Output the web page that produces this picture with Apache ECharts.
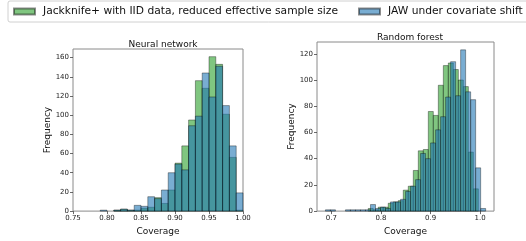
<!DOCTYPE html>
<html>
<head>
<meta charset="utf-8">
<script src="https://cdn.jsdelivr.net/npm/echarts@6/dist/echarts.min.js"></script>
<style>
html, body { margin: 0; padding: 0; background: #fff; }
#chart { width: 526px; height: 241px; }
</style>
</head>
<body>
<div id="chart"></div>
<script>
// Neural network histogram (bin width 0.01)
const nnBinStarts = [0.79, 0.80, 0.81, 0.82, 0.83, 0.84, 0.85, 0.86, 0.87, 0.88, 0.89,
    0.90, 0.91, 0.92, 0.93, 0.94, 0.95, 0.96, 0.97, 0.98, 0.99]
const nnBinWidth = 0.01
const nnJackknife = [0, 0, 1, 2, 1, 1, 3, 4, 14, 8, 22, 50, 68, 95, 136, 128, 161, 153, 101, 56, 1]
const nnJaw = [1, 0, 1, 2, 1, 6, 5, 15, 13, 22, 40, 49, 43, 89, 99, 144, 119, 151, 110, 68, 19]

// Random forest histogram (each series has its own bin edges)
const rfBinWidth = 0.0101
const rfJackknifeStarts = [0.7743, 0.7844, 0.7945, 0.8046, 0.8147, 0.8248, 0.8349, 0.8450,
    0.8551, 0.8652, 0.8753, 0.8854, 0.8955, 0.9056, 0.9157, 0.9258, 0.9359, 0.9460,
    0.9561, 0.9662, 0.9763, 0.9864]
const rfJackknife = [2, 1, 3, 3, 6, 7, 8, 16, 19, 31, 46, 47, 76, 73, 96, 111, 113, 108, 100, 95, 45, 17]
const rfJawStarts = [0.6880, 0.6981, 0.7082, 0.7183, 0.7284, 0.7385, 0.7486, 0.7587,
    0.7688, 0.7789, 0.7890, 0.7991, 0.8092, 0.8193, 0.8294, 0.8395, 0.8496, 0.8597,
    0.8698, 0.8799, 0.8900, 0.9001, 0.9102, 0.9203, 0.9304, 0.9405, 0.9506, 0.9607,
    0.9708, 0.9809, 0.9910, 1.0011]
const rfJaw = [1, 1, 0, 0, 1, 1, 1, 1, 1, 5, 2, 3, 2, 7, 7, 9, 15, 19, 24, 44, 40, 52, 62, 72,
    87, 114, 88, 123, 91, 85, 33, 2]

const nnTicks = [0.75, 0.80, 0.85, 0.90, 0.95, 1.00]
const rfTicks = [0.7, 0.8, 0.9, 1.0]
const nnYTicks = [0, 20, 40, 60, 80, 100, 120, 140, 160]
const rfYTicks = [0, 20, 40, 60, 80, 100, 120]

const seriesNames = ['Jackknife+ with IID data, reduced effective sample size', 'JAW under covariate shift']
const greenFill = 'rgba(44,160,44,0.6)'
const blueFill = 'rgba(31,119,180,0.6)'
const edgeColor = 'rgba(0,0,0,0.45)'
const font = 'DejaVu Sans'

const toBins = (starts, width, counts) => starts.map((s, i) => [s, s + width, counts[i]])

const renderBar = (params, api) => {
    const h = api.value(2)
    if (!h) return null
    const p0 = api.coord([api.value(0), h])
    const p1 = api.coord([api.value(1), 0])
    const fill = params.seriesIndex % 2 === 0 ? greenFill : blueFill
    return {
        type: 'rect',
        shape: { x: p0[0], y: p0[1], width: p1[0] - p0[0], height: p1[1] - p0[1] },
        style: { fill: fill, stroke: edgeColor, lineWidth: 0.8 }
    }
}

const histSeries = (name, idx, data, fill) => ({
    name: name,
    type: 'custom',
    xAxisIndex: idx,
    yAxisIndex: idx,
    renderItem: renderBar,
    encode: { x: [0, 1], y: 2 },
    itemStyle: { color: fill, borderColor: edgeColor, borderWidth: 0.8 },
    data: data,
    silent: true
})

const xAxisOf = (idx, min, max, ticks, digits) => ({
    type: 'value',
    gridIndex: idx,
    min: min,
    max: max,
    name: 'Coverage',
    nameLocation: 'middle',
    nameGap: 12,
    nameTextStyle: { fontFamily: font, fontSize: 9, color: '#111' },
    axisLine: { show: false },
    axisTick: { show: true, length: 3, lineStyle: { color: '#444', width: 0.8 }, customValues: ticks },
    axisLabel: { fontFamily: font, fontSize: 7, color: '#222', margin: 4, customValues: ticks,
        formatter: v => v.toFixed(digits) },
    splitLine: { show: false }
})

const yAxisOf = (idx, max, ticks) => ({
    type: 'value',
    gridIndex: idx,
    min: 0,
    max: max,
    name: 'Frequency',
    nameLocation: 'middle',
    nameGap: 16,
    nameTextStyle: { fontFamily: font, fontSize: 9, color: '#111' },
    axisLine: { show: false },
    axisTick: { show: true, length: 3, lineStyle: { color: '#444', width: 0.8 }, customValues: ticks },
    axisLabel: { fontFamily: font, fontSize: 7, color: '#222', margin: 4, customValues: ticks },
    splitLine: { show: false }
})

const chart = echarts.init(document.getElementById('chart'))

const option = {
    animation: false,
    backgroundColor: '#fff',
    title: [
        { text: 'Neural network', left: 158, top: 35, textAlign: 'center',
          textStyle: { fontFamily: font, fontSize: 9, fontWeight: 'normal', color: '#111' } },
        { text: 'Random forest', left: 405, top: 28, textAlign: 'center',
          textStyle: { fontFamily: font, fontSize: 9, fontWeight: 'normal', color: '#111' } }
    ],
    legend: {
        data: seriesNames,
        left: 8,
        top: 1,
        width: 600,
        padding: [5, 6, 5, 5],
        itemWidth: 21,
        itemHeight: 6,
        itemGap: 20,
        icon: 'rect',
        borderColor: '#d0d0d0',
        borderWidth: 1,
        borderRadius: 2,
        backgroundColor: '#fff',
        textStyle: { fontFamily: font, fontSize: 10.7, color: '#111', padding: [0, 0, 0, 3] }
    },
    grid: [
        { left: 73, top: 49, width: 170, height: 165, show: true, borderColor: '#8a8a8a', borderWidth: 1 },
        { left: 317, top: 42, width: 177, height: 171, show: true, borderColor: '#8a8a8a', borderWidth: 1 }
    ],
    xAxis: [
        xAxisOf(0, 0.75, 1.0, nnTicks, 2),
        xAxisOf(1, 0.671, 1.028, rfTicks, 1)
    ],
    yAxis: [
        yAxisOf(0, 169, nnYTicks),
        yAxisOf(1, 129, rfYTicks)
    ],
    series: [
        histSeries(seriesNames[0], 0, toBins(nnBinStarts, nnBinWidth, nnJackknife), greenFill),
        histSeries(seriesNames[1], 0, toBins(nnBinStarts, nnBinWidth, nnJaw), blueFill),
        histSeries(seriesNames[0], 1, toBins(rfJackknifeStarts, rfBinWidth, rfJackknife), greenFill),
        histSeries(seriesNames[1], 1, toBins(rfJawStarts, rfBinWidth, rfJaw), blueFill)
    ]
}

chart.setOption(option)
</script>
</body>
</html>
